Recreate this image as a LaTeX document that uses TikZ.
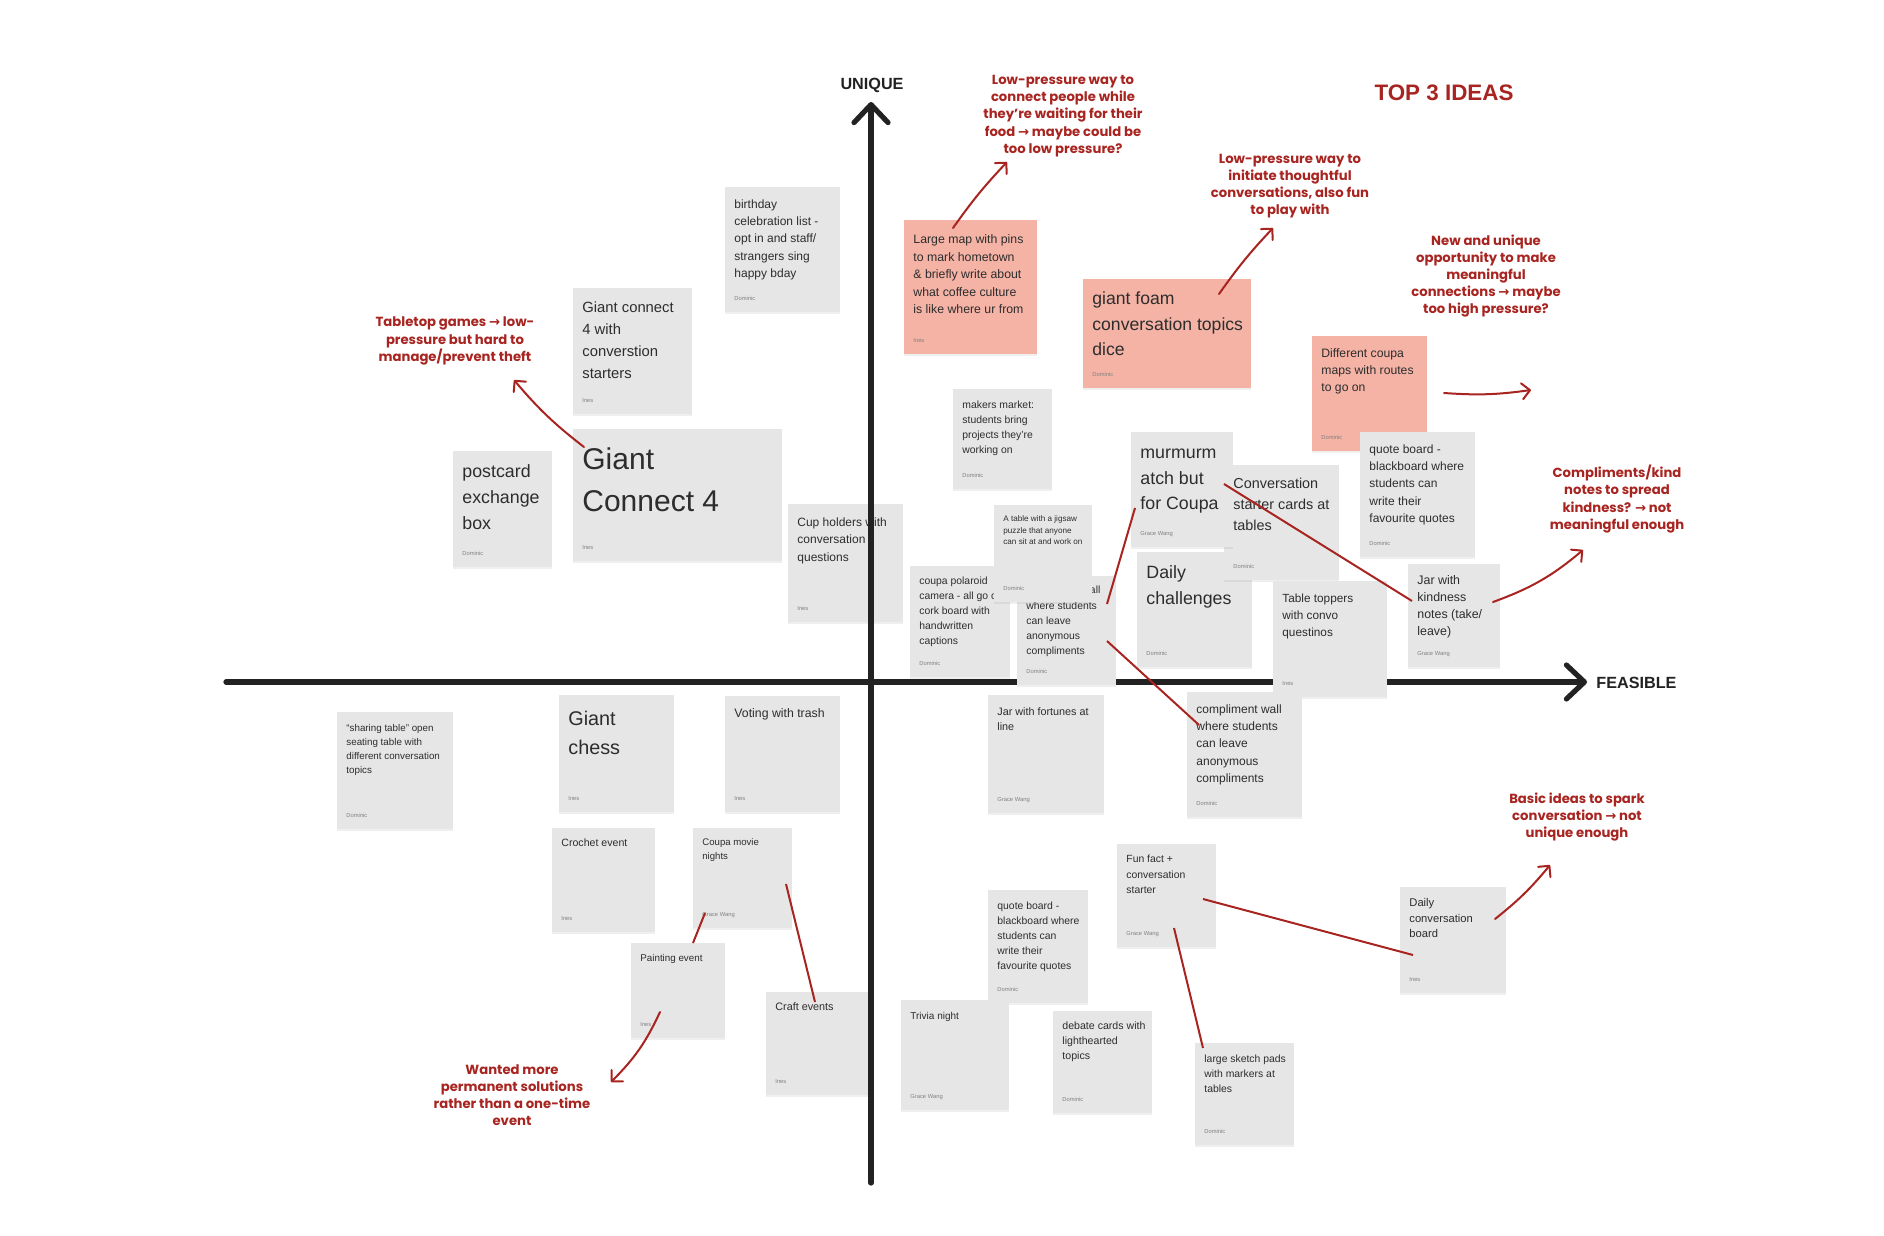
\documentclass[tikz,border=0pt]{standalone}
\usepackage{fontspec}
\setmainfont{Liberation Sans}
\newfontfamily\notefont{Poppins}
\newfontfamily\symfont{DejaVu Sans}
\usetikzlibrary{arrows.meta,shadows}

\definecolor{cardgray}{RGB}{230,230,230}
\definecolor{cardpink}{RGB}{244,179,165}
\definecolor{notered}{RGB}{168,36,32}
\definecolor{axisblack}{RGB}{34,34,34}
\definecolor{inkgray}{RGB}{45,45,45}

\begin{document}
\begin{tikzpicture}[x=0.5pt,y=-0.5pt,
  card/.style={anchor=north west, inner sep=0pt, outer sep=0pt,
    drop shadow={shadow xshift=0pt, shadow yshift=-1.2pt, opacity=0.12}},
  cardtext/.style={anchor=north west, inner sep=0pt, align=left, text=inkgray},
  author/.style={anchor=base west, inner sep=0pt, text=gray, font=\fontsize{2.9}{3.4}\selectfont},
  axis/.style={line width=2.6pt, draw=axisblack, line cap=round,
    -{Straight Barb[length=9pt,width=17pt,round]}},
  axlabel/.style={inner sep=0pt, text=axisblack, font=\bfseries\fontsize{8.1}{9}\selectfont},
  title/.style={inner sep=0pt, text=notered, font=\bfseries\fontsize{11.2}{13}\selectfont},
  note/.style={align=center, inner sep=0pt, text=notered, font=\notefont\bfseries\fontsize{6.6}{8.6}\selectfont},
  link/.style={draw=notered, line width=1pt},
  pointer/.style={link, line cap=round, -{Straight Barb[length=4pt,width=8pt,round]}},
]
% Lienzo
\fill[white] (0,0) rectangle (1884,1236);
\useasboundingbox (0,0) rectangle (1884,1236);

% Tarjeta bajo el eje vertical
\node[card, fill=cardgray, minimum width=57.5pt, minimum height=59pt] (cup) at (788,504) {};
\node[cardtext, font=\fontsize{6}{8.75}\selectfont] (cup-t) at ([shift={(9,22-1.4*8.75)}]cup.north west) {\strut Cup holders with\\conversation\\questions};
\node[author] (cup-a) at ([shift={(9,-12)}]cup.south west) {Ines};

% Ejes
\coordinate (xmin) at (226,682);
\coordinate (xmax) at (1587,682);
\coordinate (ymin) at (871,1183);
\coordinate (ymax) at (871,102);
\draw[axis] (xmin) -- (xmax);
\draw[axis] (ymin) -- (ymax);
\node[axlabel] (unique) at (872,85) {UNIQUE};
\node[axlabel, anchor=west] (feasible) at (1596,683) {FEASIBLE};
\node[title] (top3) at (1444,93) {TOP 3 IDEAS};

% Notas adhesivas
\foreach \nm/\x/\y/\w/\h/\col/\fs/\bs/\dy/\txt/\who in {
  bday/725/187/115/125/cardgray/6/8.6/21/{birthday\\celebration list -\\opt in and staff/\\strangers sing\\happy bday}/Dominic,
  gcw/573/288/119/126/cardgray/7.4/11/24/{Giant connect\\4 with\\converstion\\starters}/Ines,
  gc4/573/429/209/132/cardgray/15/21/40.5/{Giant\\Connect 4}/Ines,
  post/453/451/99/116/cardgray/8.9/13/26.5/{postcard\\exchange\\box}/Dominic,
  map/904/220/133/134/cardpink/6.15/8.8/23/{Large map with pins\\to mark hometown\\\& briefly write about\\what coffee culture\\is like where ur from}/Ines,
  dice/1083/279/168/109/cardpink/8.8/12.6/25.5/{giant foam\\conversation topics\\dice}/Dominic,
  makers/953/389/99/100/cardgray/5.2/7.5/19.5/{makers market:\\students bring\\projects they’re\\working on}/Dominic,
  routes/1312/336/115/115/cardpink/6.1/8.6/21/{Different coupa\\maps with routes\\to go on}/Dominic,
  quote/1360/432/115/125/cardgray/6/8.6/21/{quote board -\\blackboard where\\students can\\write their\\favourite quotes}/Dominic,
  polaroid/910/566/100/111/cardgray/5.2/7.5/18.5/{coupa polaroid\\camera - all go on\\cork board with\\handwritten\\captions}/Dominic,
  cwall/1017/576/99/109/cardgray/5.2/7.6/17.5/{compliment wall\\where students\\can leave\\anonymous\\compliments}/Dominic,
  jigsaw/994/505/98/97/cardgray/4.06/5.85/16/{A table with a jigsaw\\puzzle that anyone\\can sit at and work on}/Dominic,
  challenge/1137/552/115/115/cardgray/8.9/13/26.5/{Daily\\challenges}/Dominic,
  starter/1224/465/115/115/cardgray/7.2/10.5/22.6/{Conversation\\starter cards at\\tables}/Dominic,
  murmur/1131/432/102/115/cardgray/8.9/12.7/26.5/{murmurm\\atch but\\for Coupa}/Grace Wang,
  kjar/1408/564/92/103/cardgray/6.2/8.5/20/{Jar with\\kindness\\notes (take/\\leave)}/Grace Wang,
  topper/1273/581/114/116/cardgray/5.9/8.5/21/{Table toppers\\with convo\\questinos}/Ines,
  sharing/337/712/116/117/cardgray/4.9/6.85/19.5/{“sharing table” open\\seating table with\\different conversation\\topics}/Dominic,
  chess/559/695/115/117/cardgray/9.9/14.5/30/{Giant\\chess}/Ines,
  voting/725/696/115/116/cardgray/6.15/8.6/21/{Voting with trash}/Ines,
  crochet/552/828/103/104/cardgray/5.3/7/18.5/{Crochet event}/Ines,
  movie/693/828/99/100/cardgray/4.8/7/17.5/{Coupa movie\\nights}/Grace Wang,
  painting/631/943/94/95/cardgray/4.9/7/18.5/{Painting event}/Ines,
  craft/766/992/102/103/cardgray/5.4/7/18.5/{Craft events}/Ines,
  fortune/988/695/116/118/cardgray/5.4/7.5/20.5/{Jar with fortunes at\\line}/Grace Wang,
  cwalltwo/1187/692/115/125/cardgray/6/8.6/21/{compliment wall\\where students\\can leave\\anonymous\\compliments}/Dominic,
  funfact/1117/844/99/103/cardgray/5.2/7.6/18.5/{Fun fact +\\conversation\\starter}/Grace Wang,
  quotetwo/988/890/100/113/cardgray/5.2/7.5/19.5/{quote board -\\blackboard where\\students can\\write their\\favourite quotes}/Dominic,
  trivia/901/1000/108/110/cardgray/5/7/19.5/{Trivia night}/Grace Wang,
  debate/1053/1011/99/102/cardgray/5.3/7.5/18.5/{debate cards with\\lighthearted\\topics}/Dominic,
  sketch/1195/1043/99/102/cardgray/5.2/7.5/19.5/{large sketch pads\\with markers at\\tables}/Dominic,
  dboard/1400/887/106/106/cardgray/5.6/7.8/19/{Daily\\conversation\\board}/Ines} {
  \node[card, fill=\col, minimum width=\w*0.5pt, minimum height=\h*0.5pt] (\nm) at (\x,\y) {};
  \node[cardtext, font=\fontsize{\fs}{\bs}\selectfont] (\nm-t) at ([shift={(9,\dy-1.4*\bs)}]\nm.north west) {\strut\txt};
  \node[author] (\nm-a) at ([shift={(9,-12)}]\nm.south west) {\who};
}

% Uniones entre notas
\draw[link] ([shift={(4,76)}]murmur.north west) -- ([shift={(90,28)}]cwall.north west);
\draw[link] ([shift={(93,52)}]murmur.north west) -- ([shift={(4,37)}]kjar.north west);
\draw[link] ([shift={(90,65)}]cwall.north west) -- ([shift={(12,33)}]cwalltwo.north west);
\draw[link] ([shift={(86,55)}]funfact.north west) -- ([shift={(13,68)}]dboard.north west);
\draw[link] ([shift={(57,84)}]funfact.north west) -- ([shift={(8,5)}]sketch.north west);
\draw[link] ([shift={(12,85)}]movie.north west) -- ([shift={(62,0)}]painting.north west);
\draw[link] ([shift={(93,56)}]movie.north west) -- ([shift={(49,10)}]craft.north west);

% Comentarios
\node[note] (tabletop) at (455,341) {Tabletop games {\symfont →} low-\\pressure but hard to\\manage/prevent theft};
\node[note] (waiting) at (1063,116) {Low-pressure way to\\connect people while\\they’re waiting for their\\food {\symfont →} maybe could be\\too low pressure?};
\node[note] (thoughtful) at (1290,186) {Low-pressure way to\\initiate thoughtful\\conversations, also fun\\to play with};
\node[note] (highpress) at (1486,276) {New and unique\\opportunity to make\\meaningful\\connections {\symfont →} maybe\\too high pressure?};
\node[note] (kindnote) at (1617,499) {Compliments/kind\\notes to spread\\kindness? {\symfont →} not\\meaningful enough};
\node[note] (basic) at (1577,817) {Basic ideas to spark\\conversation {\symfont →} not\\unique enough};
\node[note] (permanent) at (512,1095) {Wanted more\\permanent solutions\\rather than a one-time\\event};

% Flechas hacia los comentarios
\coordinate (tabletop-in) at (514,380);
\coordinate (waiting-in) at (1007,162);
\coordinate (thoughtful-in) at (1273,228);
\coordinate (routes-out) at (1444,393);
\coordinate (highpress-in) at (1531,390);
\coordinate (kindnote-in) at (1583,550);
\coordinate (basic-in) at (1550,865);
\coordinate (permanent-in) at (611,1082);
\draw[pointer] ([shift={(11,18)}]gc4.north west) to[bend left=6] (tabletop-in);
\draw[pointer] ([shift={(49,8)}]map.north west) to[bend left=4] (waiting-in);
\draw[pointer] ([shift={(136,15)}]dice.north west) to[bend left=4] (thoughtful-in);
\draw[pointer] (routes-out) to[bend right=6] (highpress-in);
\draw[pointer] ([shift={(85,38)}]kjar.north west) to[bend right=10] (kindnote-in);
\draw[pointer] ([shift={(95,32)}]dboard.north west) to[bend right=6] (basic-in);
\draw[pointer] ([shift={(29,69)}]painting.north west) to[bend left=10] (permanent-in);
\end{tikzpicture}
\end{document}
